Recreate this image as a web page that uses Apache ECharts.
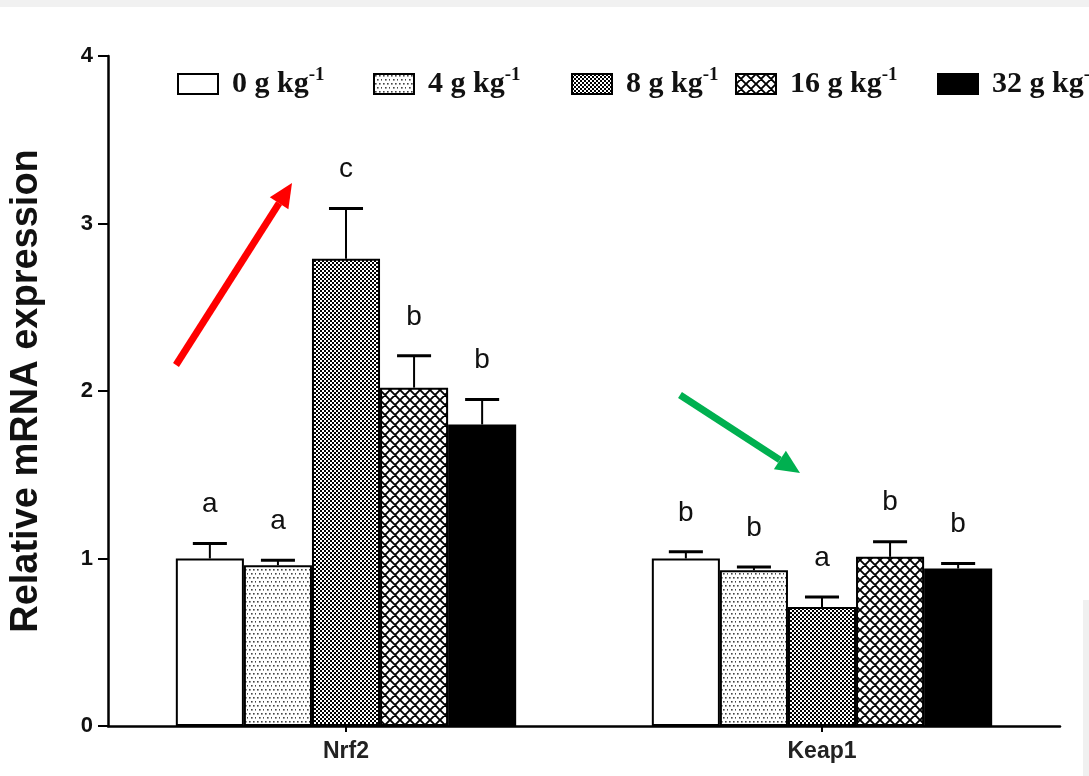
<!DOCTYPE html>
<html>
<head>
<meta charset="utf-8">
<script src="https://cdn.jsdelivr.net/npm/echarts@6/dist/echarts.min.js"></script>
<style>
html,body{margin:0;padding:0;background:#fff;}
#c{width:1089px;height:776px;}
</style>
</head>
<body>
<div id="c"></div>
<script>
// ---- data ----
const categories = ['Nrf2', 'Keap1'];
const doseLabels = ['0', '4', '8', '16', '32'];
const mean0 = [1.00, 1.00];
const mean4 = [0.96, 0.93];
const mean8 = [2.79, 0.71];
const mean16 = [2.02, 1.01];
const mean32 = [1.80, 0.94];
const err0 = [0.09, 0.04];
const err4 = [0.03, 0.02];
const err8 = [0.30, 0.06];
const err16 = [0.19, 0.09];
const err32 = [0.15, 0.03];
const letters0 = ['a', 'b'];
const letters4 = ['a', 'b'];
const letters8 = ['c', 'a'];
const letters16 = ['b', 'b'];
const letters32 = ['b', 'b'];
const yTicks = [0, 1, 2, 3, 4];

const means = [mean0, mean4, mean8, mean16, mean32];
const errs = [err0, err4, err8, err16, err32];
const letters = [letters0, letters4, letters8, letters16, letters32];

// ---- patterns ----
function makeCanvas(w, h, draw) {
  const c = document.createElement('canvas');
  c.width = w; c.height = h;
  const ctx = c.getContext('2d');
  draw(ctx, w, h);
  return c;
}
const patWhite = '#ffffff';
const patDots = makeCanvas(8, 8, (ctx) => {
  ctx.fillStyle = '#fff'; ctx.fillRect(0, 0, 8, 8);
  ctx.fillStyle = '#444';
  ctx.fillRect(1, 1, 1.6, 1.6);
  ctx.fillRect(5, 1, 1.6, 1.6);
  ctx.fillRect(3, 5, 1.6, 1.6);
  ctx.fillRect(7, 5, 1.6, 1.6);
});
const patChecker = makeCanvas(4, 4, (ctx) => {
  ctx.fillStyle = '#000'; ctx.fillRect(0, 0, 4, 4);
  ctx.fillStyle = '#fff';
  ctx.fillRect(0, 0, 2, 2);
  ctx.fillRect(2, 2, 2, 2);
});
const patCross = makeCanvas(10, 10, (ctx) => {
  ctx.fillStyle = '#fff'; ctx.fillRect(0, 0, 10, 10);
  ctx.strokeStyle = '#000'; ctx.lineWidth = 1.9;
  ctx.beginPath();
  for (let k = -10; k <= 10; k += 10) {
    ctx.moveTo(k, 0); ctx.lineTo(k + 10, 10);
    ctx.moveTo(k, 10); ctx.lineTo(k + 10, 0);
  }
  ctx.stroke();
});
const fills = [
  patWhite,
  { image: patDots, repeat: 'repeat' },
  { image: patChecker, repeat: 'repeat' },
  { image: patCross, repeat: 'repeat' },
  '#000000'
];

const BAR_PCT = 0.143;
const series = [];
doseLabels.forEach((d, si) => {
  series.push({
    name: d + ' g kg-1',
    type: 'bar',
    data: means[si],
    barWidth: (BAR_PCT * 100) + '%',
    barGap: '0%',
    itemStyle: { color: fills[si], borderColor: '#000', borderWidth: 2 },
    emphasis: { disabled: true },
    z: 2
  });
});
doseLabels.forEach((d, si) => {
  series.push({
    type: 'custom',
    coordinateSystem: 'cartesian2d',
    z: 5,
    data: categories.map((c, ci) => [ci, means[si][ci], errs[si][ci]]),
    renderItem: function (params, api) {
      const ci = api.value(0), m = api.value(1), e = api.value(2);
      const band = api.size([1, 0])[0];
      const bw = band * BAR_PCT;
      const base = api.coord([ci, m]);
      const cx = base[0] + (si - 2) * bw;
      const yM = base[1];
      const yT = api.coord([ci, m + e])[1];
      const cap = bw * 0.5;
      return {
        type: 'group',
        children: [
          { type: 'line', shape: { x1: cx, y1: yM, x2: cx, y2: yT }, style: { stroke: '#000', lineWidth: 2 } },
          { type: 'line', shape: { x1: cx - cap / 2, y1: yT, x2: cx + cap / 2, y2: yT }, style: { stroke: '#000', lineWidth: 3 } },
          { type: 'text', style: { text: letters[si][params.dataIndex], x: cx, y: yT - 25, align: 'center', verticalAlign: 'bottom',
              font: '28px Arial, "Liberation Sans", sans-serif', fill: '#111' } }
        ]
      };
    }
  });
});

// ---- legends ----
const legendLeft = [172, 368, 566, 730, 932];
const legends = doseLabels.map((d, si) => ({
  data: [{ name: d + ' g kg-1', icon: 'rect' }],
  left: legendLeft[si],
  top: 61,
  orient: 'horizontal',
  itemWidth: 40,
  itemHeight: 20,
  selectedMode: false,
  formatter: function () { return '{t|' + d + ' g kg}{s|-1}'; },
  textStyle: {
    padding: [0, 0, 0, 9],
    rich: {
      t: { fontFamily: '"Liberation Serif", "Times New Roman", serif', fontWeight: 'bold', fontSize: 30, lineHeight: 36, color: '#111' },
      s: { fontFamily: '"Liberation Serif", "Times New Roman", serif', fontWeight: 'bold', fontSize: 19, lineHeight: 19, verticalAlign: 'top', color: '#111' }
    }
  }
}));

// ---- arrows (annotations) ----
function arrow(x1, y1, x2, y2, color, width, headLen, headW) {
  const ang = Math.atan2(y2 - y1, x2 - x1);
  const bx = x2 - headLen * Math.cos(ang), by = y2 - headLen * Math.sin(ang);
  const px = -Math.sin(ang), py = Math.cos(ang);
  return [
    { type: 'line', shape: { x1: x1, y1: y1, x2: bx, y2: by }, style: { stroke: color, lineWidth: width } },
    { type: 'polygon', shape: { points: [[x2, y2], [bx + px * headW / 2, by + py * headW / 2], [bx - px * headW / 2, by - py * headW / 2]] }, style: { fill: color } }
  ];
}

const chart = echarts.init(document.getElementById('c'));
chart.setOption({
  backgroundColor: '#ffffff',
  animation: false,
  grid: { left: 106, right: 29, top: 56, bottom: 50 },
  legend: legends,
  xAxis: {
    type: 'category',
    data: categories,
    axisLine: { lineStyle: { color: '#000', width: 2.5 } },
    axisTick: { show: true, alignWithLabel: true, length: 6, lineStyle: { color: '#000', width: 2 } },
    axisLabel: { fontFamily: 'Arial, "Liberation Sans", sans-serif', fontWeight: 'bold', fontSize: 23, color: '#222', margin: 14 }
  },
  yAxis: {
    type: 'value',
    min: 0, max: 4, interval: 1,
    name: 'Relative mRNA expression',
    nameLocation: 'middle',
    nameGap: 62,
    nameTextStyle: { fontFamily: 'Arial, "Liberation Sans", sans-serif', fontWeight: 'bold', fontSize: 38, color: '#111' },
    axisLine: { show: true, lineStyle: { color: '#000', width: 2.5 } },
    axisTick: { show: true, length: 10, lineStyle: { color: '#000', width: 2 } },
    splitLine: { show: false },
    axisLabel: { fontFamily: 'Arial, "Liberation Sans", sans-serif', fontWeight: 'bold', fontSize: 22, color: '#111', margin: 15,
      formatter: function (v) { return yTicks.indexOf(v) >= 0 ? String(v) : ''; } }
  },
  series: series,
  graphic: [
    { type: 'rect', shape: { x: 0, y: 0, width: 1089, height: 7 }, style: { fill: '#f1f1f1' }, silent: true },
    { type: 'rect', shape: { x: 1083, y: 600, width: 6, height: 176 }, style: { fill: '#f0f0f0' }, silent: true },
    { type: 'group', children: arrow(176, 365, 292, 183, '#ff0000', 7, 24, 22) },
    { type: 'group', children: arrow(680, 395, 800, 473, '#00b050', 7, 24, 22) }
  ]
});
</script>
</body>
</html>
